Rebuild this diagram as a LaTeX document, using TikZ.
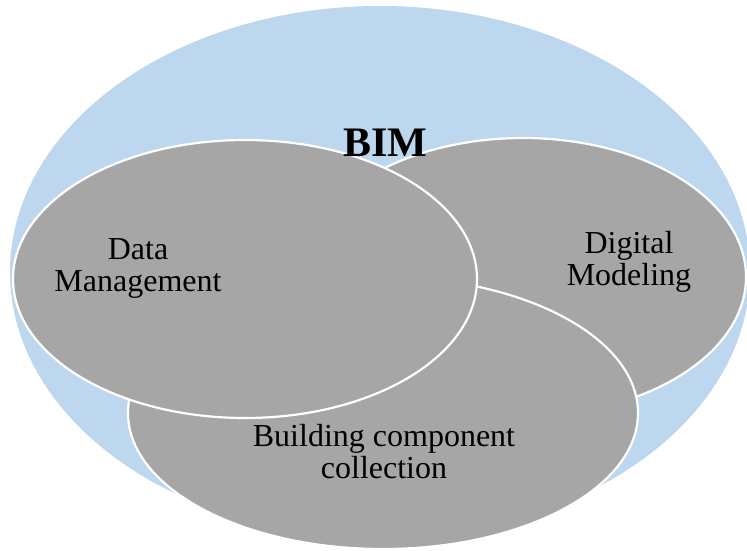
\documentclass[tikz,border=0pt]{standalone}
\usepackage{fontspec}
\setmainfont{Liberation Serif}
\definecolor{bimblue}{HTML}{BDD7EE}
\definecolor{setgray}{HTML}{A6A6A6}

\begin{document}
\begin{tikzpicture}[x=1pt,y=-1pt,
        set/.style={fill=setgray,draw=white,line width=2.2pt},
        lbl/.style={inner sep=0pt,align=center,font=\fontsize{32}{32}\selectfont}]
        \useasboundingbox (0,0) rectangle (747,550);
        \fill[bimblue] (380,272) ellipse [x radius=370pt,y radius=266pt];
        \draw[set] (523,277) ellipse [x radius=223pt,y radius=139pt];
        \draw[set] (383,413) ellipse [x radius=255pt,y radius=136pt];
        \draw[set] (245,279) ellipse [x radius=232pt,y radius=139pt];
        \node[lbl] (data) at (138,268) {Data\\Management};
        \node[lbl] (digital) at (629,262) {Digital\\Modeling};
        \node[lbl] (building) at (384,452) {Building component\\collection};
        \node[font=\fontsize{42}{42}\selectfont\bfseries,anchor=base] (bim) at (385,156) {BIM};
    \end{tikzpicture}
\end{document}
